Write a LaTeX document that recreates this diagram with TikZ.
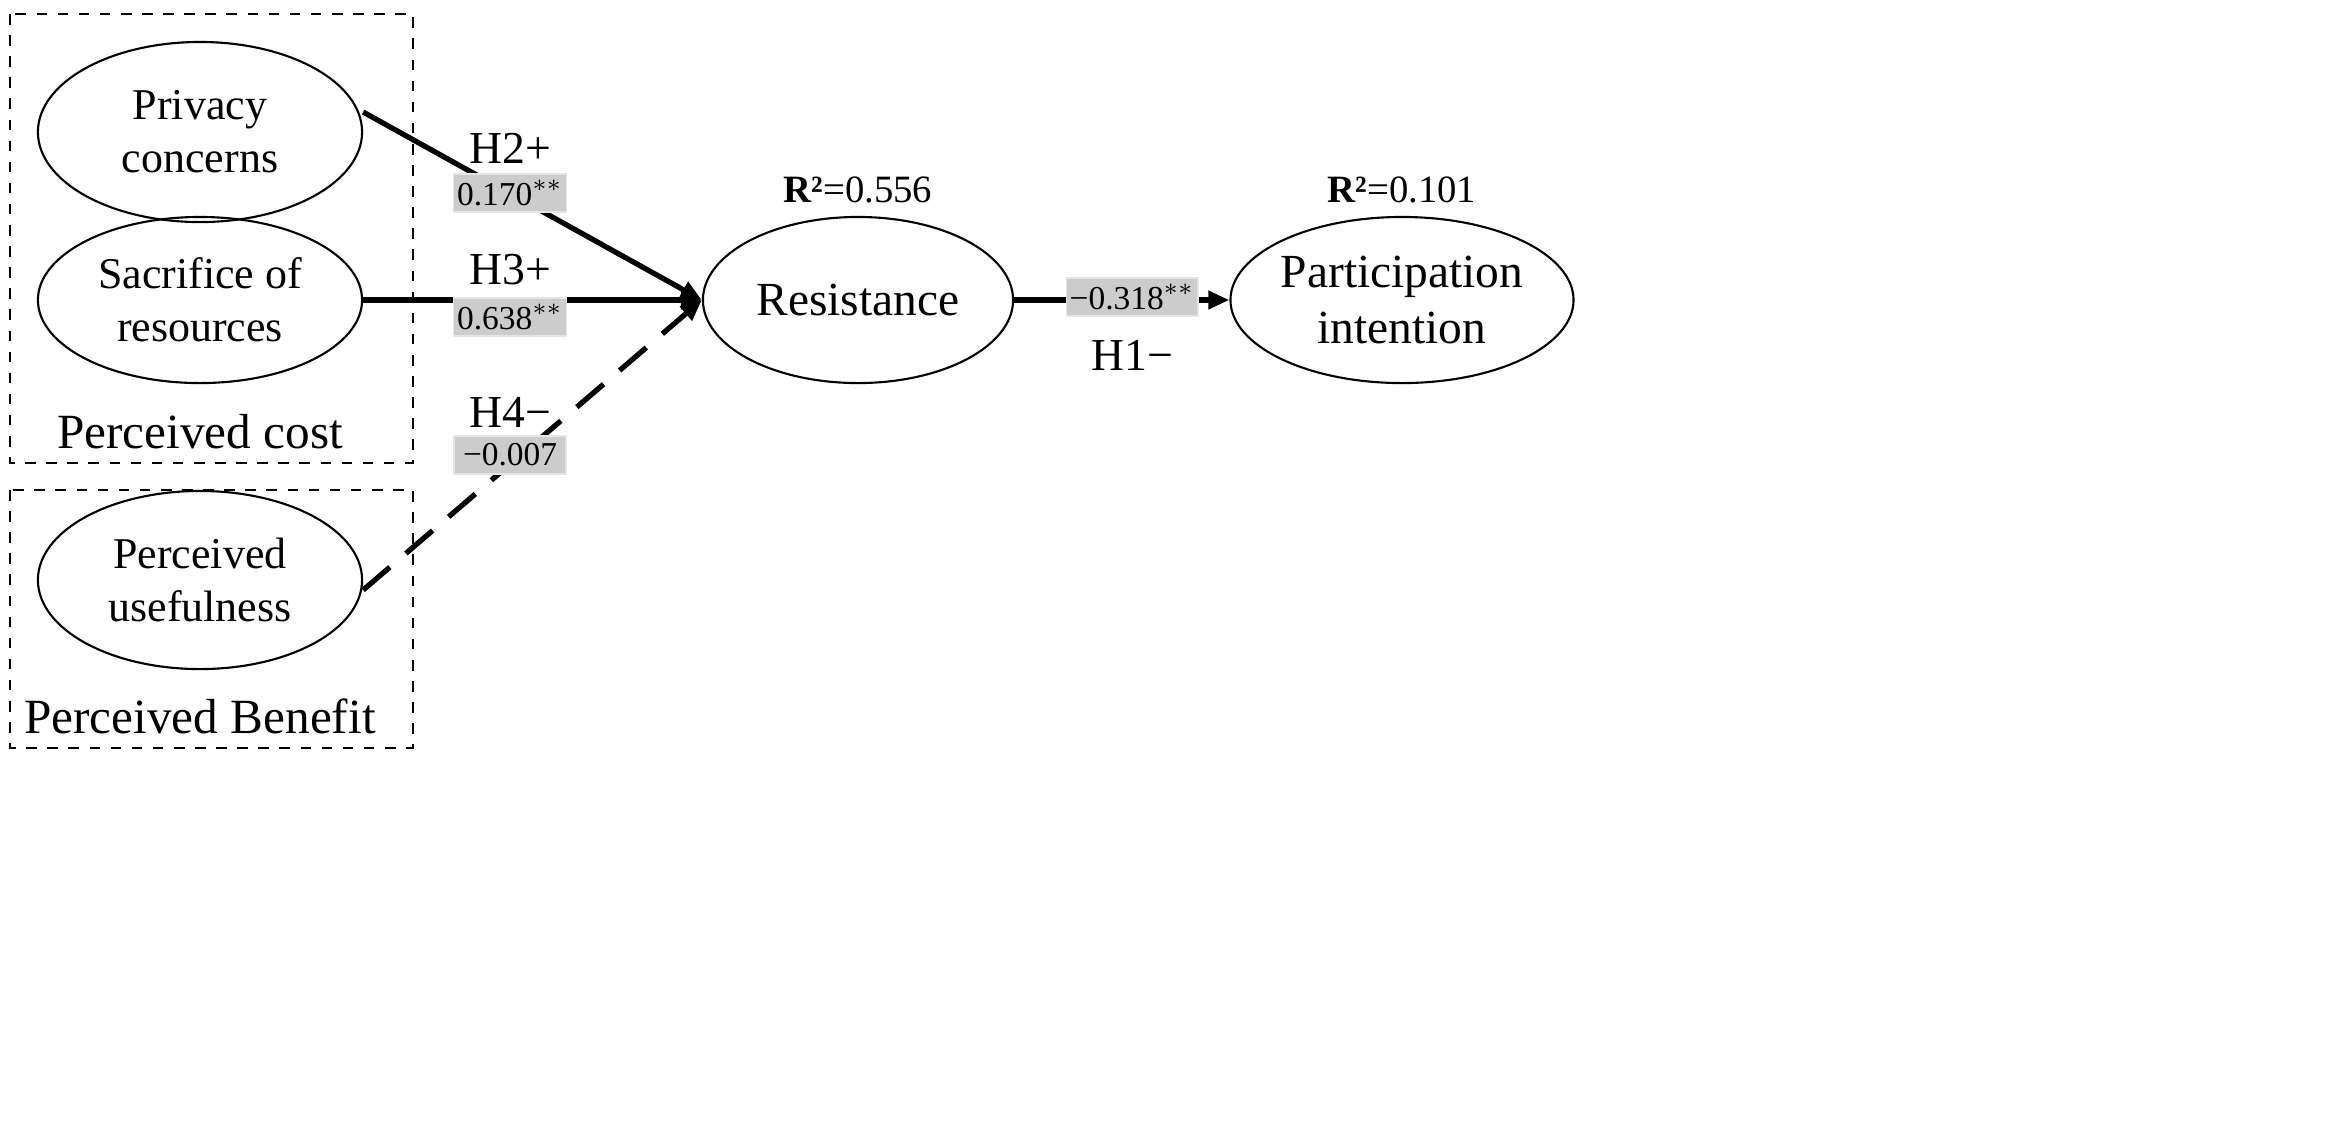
\documentclass[tikz,border=0pt]{standalone}
\usepackage{fontspec}
\setmainfont{Liberation Serif}
\usetikzlibrary{shapes.geometric,arrows.meta}
\begin{document}
\begin{tikzpicture}[x=0.01cm,y=-0.01cm,
  lat/.style={draw,ellipse,align=center,font=\fontsize{12.5}{15}\selectfont,line width=0.6pt,inner sep=0pt},
  grp/.style={draw,dashed,line width=0.7pt},
  coef/.style={fill=black!20,draw=black!10,minimum width=1.12cm,minimum height=0.38cm,inner sep=1pt,font=\fontsize{9.5}{11}\selectfont},
  hyp/.style={font=\fontsize{13}{15}\selectfont},
  path/.style={line width=1.5pt},
  arr/.style={-{Triangle[length=6pt,width=5pt]}}]
\useasboundingbox (0,0) rectangle (2340,1135);
\draw[grp] (10,14) rectangle (413,463);
\draw[grp] (10,490) rectangle (413,748);
\node[lat,minimum width=3.24cm,minimum height=1.8cm] (pc) at (200,132) {Privacy\\concerns};
\node[lat,minimum width=3.24cm,minimum height=1.66cm] (sr) at (200,300) {Sacrifice of\\resources};
\node[lat,minimum width=3.24cm,minimum height=1.78cm] (pu) at (200,580) {Perceived\\usefulness};
\node[lat,minimum width=3.1cm,minimum height=1.66cm,font=\fontsize{13.5}{16}\selectfont] (res) at (858,300) {Resistance};
\node[lat,minimum width=3.05cm,minimum height=1.66cm,font=\fontsize{13.5}{16}\selectfont] (pi) at (1402,300) {Participation\\intention};
\node[font=\fontsize{14}{16}\selectfont] (lc) at (200,432) {Perceived cost};
\node[font=\fontsize{14}{16}\selectfont] (lb) at (200,716) {Perceived Benefit};
\coordinate (tgt) at (res.west);
\draw[path,arr] (pc.east) ++(0,-20) -- (tgt);
\draw[path,arr] (sr.east) -- (tgt);
\draw[path,dashed,arr,dash pattern=on 10pt off 6pt] (pu.east) ++(0,10) -- (tgt);
\draw[path,arr] (res.east) -- (pi.west);
\node[hyp] (h2) at (510,148) {H2+};
\node[coef] (c2) at (510,193) {0.170$^{**}$};
\node[hyp] (h3) at (510,270) {H3+};
\node[coef] (c3) at (510,317) {0.638$^{**}$};
\node[hyp] (h4) at (510,412) {H4−};
\node[coef] (c4) at (510,455) {−0.007};
\node[coef,minimum width=1.1cm] (c1) at (1132,297) {−0.318$^{**}$};
\node[hyp] (h1) at (1132,355) {H1−};
\node[font=\fontsize{11}{13}\selectfont] (r1) at (858,190) {\textbf{R²}=0.556};
\node[font=\fontsize{11}{13}\selectfont] (r2) at (1402,190) {\textbf{R²}=0.101};
\end{tikzpicture}
\end{document}
